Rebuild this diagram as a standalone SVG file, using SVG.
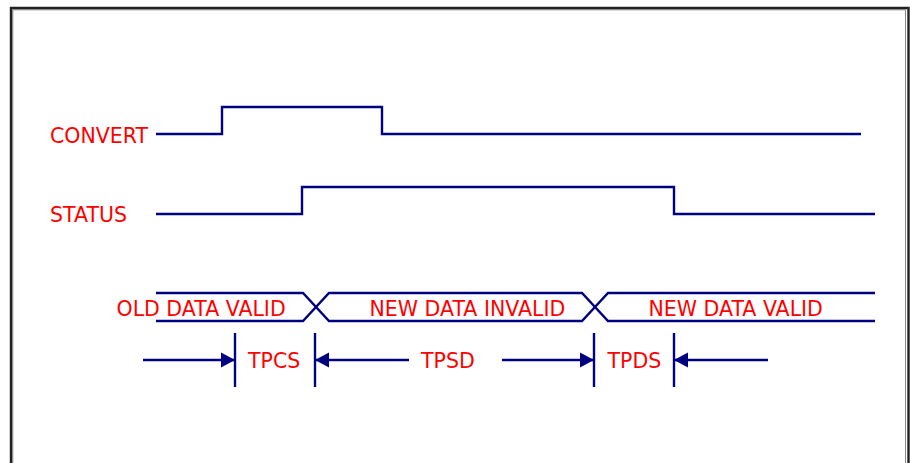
<svg xmlns="http://www.w3.org/2000/svg" width="910" height="463" viewBox="0 0 910 463">
  <style>
    .sig { fill: none; stroke: #000080; stroke-width: 2.4; }
    .lbl { font-family: "DejaVu Sans", "Liberation Sans", sans-serif; font-size: 20.5px; fill: #ff0000; }
    .tick { stroke: #000080; stroke-width: 2.4; }
    .arr { stroke: #000080; stroke-width: 2.4; marker-end: url(#head); }
  </style>
  <defs>
    <marker id="head" markerUnits="userSpaceOnUse" markerWidth="14" markerHeight="16" refX="14" refY="8" orient="auto">
      <path d="M0,0.5 L14,8 L0,15.5 z" fill="#000080"/>
    </marker>
  </defs>
  <rect x="0" y="0" width="910" height="463" fill="#ffffff"/>
  <g id="frame">
    <path d="M12.8,463 V9.8 H905.5 V463" fill="none" stroke="#888888" stroke-width="1"/>
    <path d="M11,463 V8 H908.5 V463" fill="none" stroke="#222222" stroke-width="2.4"/>
  </g>
  <g id="convert">
    <text class="lbl" x="50" y="143">CONVERT</text>
    <path class="sig" d="M156,134 H222 V107 H382 V134 H861"/>
  </g>
  <g id="status">
    <text class="lbl" x="50" y="222">STATUS</text>
    <path class="sig" d="M156,214 H302 V187 H674 V214 H875"/>
  </g>
  <g id="bus">
    <path class="sig" d="M156,293 H303 L329,321 H582 L608,293 H875"/>
    <path class="sig" d="M156,321 H303 L329,293 H582 L608,321 H875"/>
    <text class="lbl" x="116.5" y="316">OLD DATA VALID</text>
    <text class="lbl" x="369.5" y="316">NEW DATA INVALID</text>
    <text class="lbl" x="648.5" y="316">NEW DATA VALID</text>
  </g>
  <g id="timing">
    <line class="tick" x1="235" y1="333" x2="235" y2="387"/>
    <line class="tick" x1="315" y1="333" x2="315" y2="387"/>
    <line class="tick" x1="594" y1="333" x2="594" y2="387"/>
    <line class="tick" x1="674" y1="333" x2="674" y2="387"/>
    <text class="lbl" x="248" y="368">TPCS</text>
    <text class="lbl" x="421" y="368">TPSD</text>
    <text class="lbl" x="607.5" y="368">TPDS</text>
  </g>
  <g id="connectors">
    <line class="arr" x1="143" y1="360" x2="235" y2="360"/>
    <line class="arr" x1="409" y1="360" x2="315" y2="360"/>
    <line class="arr" x1="502" y1="360" x2="594" y2="360"/>
    <line class="arr" x1="768" y1="360" x2="674" y2="360"/>
  </g>
</svg>
